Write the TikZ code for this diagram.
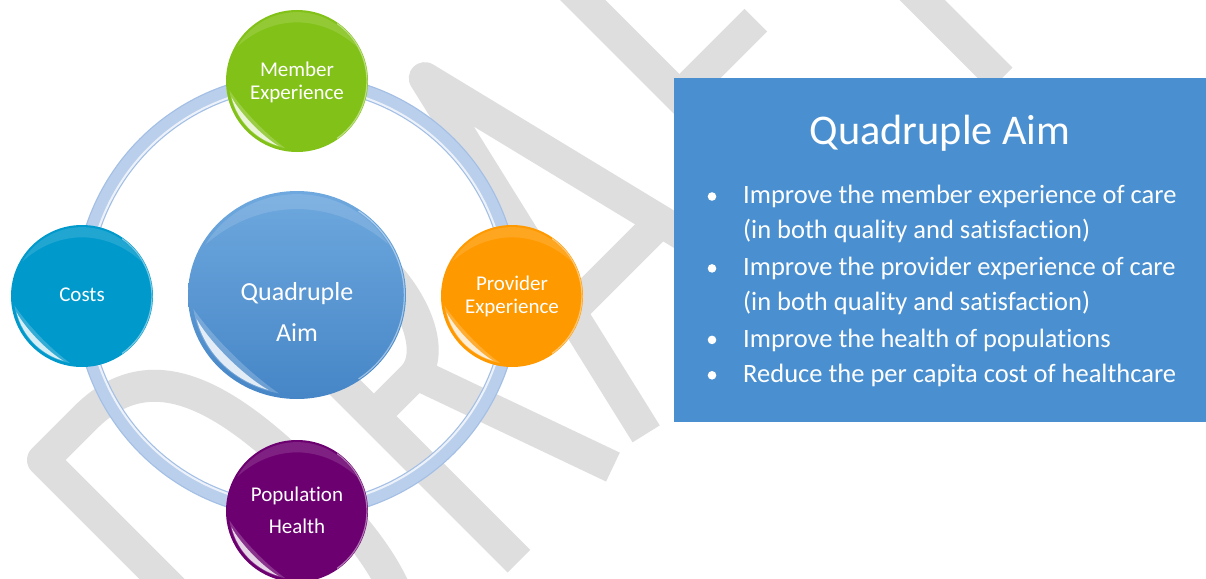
\documentclass[tikz,border=0pt]{standalone}
\usepackage{fontspec}
\setmainfont{Carlito}[Ligatures={NoCommon,NoContextual}]
\usetikzlibrary{shapes.geometric}

\definecolor{wmgray}{RGB}{222,222,222}
\definecolor{ringblue}{RGB}{186,207,236}
\definecolor{ringedge}{RGB}{163,191,229}
\definecolor{membergreen}{RGB}{130,194,24}
\definecolor{providerorange}{RGB}{255,153,0}
\definecolor{costsblue}{RGB}{0,153,204}
\definecolor{popurple}{RGB}{109,0,113}
\definecolor{aimtop}{RGB}{110,168,222}
\definecolor{aimbottom}{RGB}{70,134,199}
\definecolor{boxblue}{RGB}{74,144,208}

% glossy highlights of a bubble: node name, x radius, y radius
\newcommand\glossy[3]{%
  \begin{scope}[shift={(#1.center)}, yscale={#3/#2}]
    % soft light band along the top
    \fill[white, opacity=.13] (-150:{0.97*#2}) arc[start angle=-150, end angle=-30, radius={0.97*#2}]
      .. controls (-70:{#2}) and (-110:{#2}) .. (-150:{0.97*#2});
    % glow and bright crescent at the lower left
    \fill[white, opacity=.2] (100:{0.96*#2}) arc[start angle=100, end angle=172, radius={0.96*#2}]
      .. controls (152:{0.87*#2}) and (120:{0.87*#2}) .. (100:{0.96*#2});
    \fill[white, opacity=.8] (106:{0.95*#2}) arc[start angle=106, end angle=166, radius={0.95*#2}]
      .. controls (150:{0.92*#2}) and (122:{0.92*#2}) .. (106:{0.95*#2});
    % thin rim on the right
    \draw[white, opacity=.45, line width=1.2pt] (-55:{0.985*#2}) arc[start angle=-55, end angle=55, radius={0.985*#2}];
  \end{scope}}

\begin{document}
\begin{tikzpicture}[x=1pt, y=-1pt,
  wmstroke/.style={draw=wmgray, line width=32pt, line join=round, line cap=butt},
  bubble/.style={circle, minimum size=142pt, inner sep=0pt, draw=none},
  btext/.style={text=white, font=\fontsize{21}{23}\selectfont, align=center, anchor=base, inner sep=0pt},
  itemtext/.style={text=white, font=\fontsize{26.5}{35}\selectfont, anchor=base west, inner sep=0pt},
  dot/.style={fill=white}]
\useasboundingbox (0,0) rectangle (1206,578);
\fill[white] (0,0) rectangle (1206,578);

% DRAFT watermark, letters on a diagonal baseline
\begin{scope}
  \clip (0,0) rectangle (1206,578);
  \begin{scope}[shift={(331.5,748.5)}, x={(0.7071pt,0.7071pt)}, y={(-0.7071pt,0.7071pt)}]
    % D
    \draw[wmstroke] (0,0) -- (0,408) -- (60,408) .. controls (150,408) and (175,330) .. (175,204)
      .. controls (175,78) and (150,0) .. (60,0) -- cycle;
    % R
    \draw[wmstroke] (265,0) -- (265,408) -- (320,408) arc[start angle=90, end angle=-90, x radius=55, y radius=101.5] -- (265,205);
    \draw[wmstroke] (325,205) -- (398,0);
    % A
    \draw[wmstroke] (445,0) -- (540,408) -- (640,0);
    \draw[wmstroke] (477,140) -- (606,140);
    % F
    \draw[wmstroke] (707,0) -- (707,408) -- (835,408);
    \draw[wmstroke] (707,215) -- (815,215);
    % T
    \draw[wmstroke] (850,408) -- (1045,408);
    \draw[wmstroke] (947,408) -- (947,0);
  \end{scope}
\end{scope}

% ring joining the four bubbles
\coordinate (hub) at (297,296);
\draw[ringedge, line width=15.5pt] (hub) circle[radius=215];
\draw[ringblue, line width=13pt] (hub) circle[radius=215];
\draw[white, opacity=.75, line width=2pt] (hub) circle[radius=209.5];

% bubbles
\node[bubble, fill=membergreen] (member) at (297,81) {};
\node[bubble, fill=providerorange] (provider) at (512,296) {};
\node[bubble, fill=costsblue] (costs) at (82,296) {};
\node[bubble, fill=popurple] (population) at (297,511) {};
\node[ellipse, minimum width=218pt, minimum height=208pt, inner sep=0pt, top color=aimtop, bottom color=aimbottom] (aim) at (297,295) {};

\glossy{member}{71}{71}
\glossy{provider}{71}{71}
\glossy{costs}{71}{71}
\glossy{population}{71}{71}
\glossy{aim}{109}{104}

% bubble labels (base anchor sits on the last line)
\node[btext] (member-t) at (297,99) {Member\\Experience};
\node[btext] (provider-t) at (512,313.3) {Provider\\Experience};
\node[btext] (costs-t) at (82,301.7) {Costs};
\node[btext, font=\fontsize{21}{31.6}\selectfont] (population-t) at (297,533.3) {Population\\Health};
\node[btext, font=\fontsize{26}{41}\selectfont] (aim-t) at (297,341.7) {Quadruple\\Aim};

% summary panel
\node[fill=boxblue, minimum width=532pt, minimum height=344pt, inner sep=0pt, anchor=north west] (panel) at (674,78) {};
\node[text=white, font=\fontsize{42.3}{50}\selectfont, anchor=base, inner sep=0pt] (panel-title) at (940,144.5) {Quadruple Aim};

\node[itemtext] (item1a) at (743,203.8) {Improve the member experience of care};
\node[itemtext] (item1b) at (743,238.9) {(in both quality and satisfaction)};
\node[itemtext] (item2a) at (743,275.7) {Improve the provider experience of care};
\node[itemtext] (item2b) at (743,310.4) {(in both quality and satisfaction)};
\node[itemtext] (item3) at (743,347.2) {Improve the health of populations};
\node[itemtext] (item4) at (743,382.6) {Reduce the per capita cost of healthcare};

\fill[dot] (712,196.5) circle[radius=4.3];
\fill[dot] (712,268.4) circle[radius=4.3];
\fill[dot] (712,339.9) circle[radius=4.3];
\fill[dot] (712,375.3) circle[radius=4.3];
\end{tikzpicture}
\end{document}
